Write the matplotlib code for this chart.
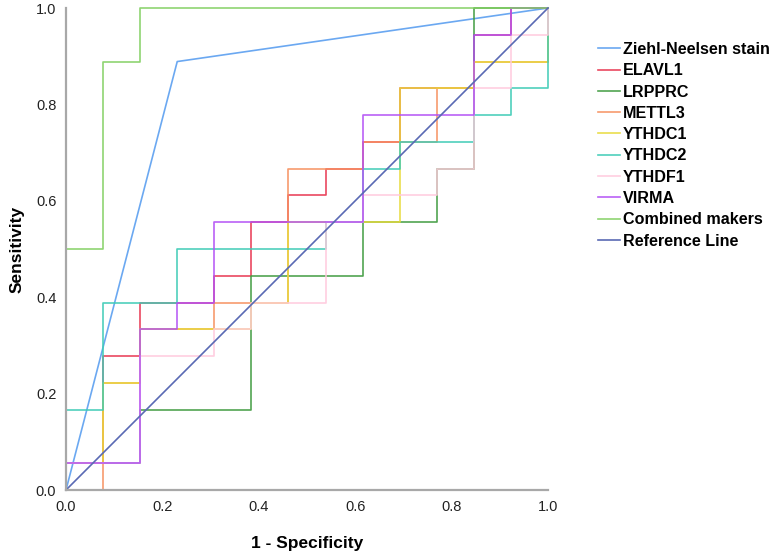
import numpy as np
import matplotlib.pyplot as plt

plt.rcParams['font.family'] = ['Liberation Sans', 'DejaVu Sans']

# 13 negative and 18 positive cases: ROC vertices as (false pos count, true pos count)
n_neg = 13
n_pos = 18

ziehl_fp = [0, 3, 13]
ziehl_tp = [0, 16, 18]

elavl1_fp = [0, 0, 1, 1, 2, 2, 4, 4, 5, 5, 6, 6, 7, 7, 8, 8, 9, 9, 11, 11, 12, 12, 13]
elavl1_tp = [0, 1, 1, 5, 5, 7, 7, 8, 8, 10, 10, 11, 11, 12, 12, 13, 13, 15, 15, 17, 17, 18, 18]

lrpprc_fp = [0, 0, 2, 2, 5, 5, 8, 8, 10, 10, 11, 11, 13]
lrpprc_tp = [0, 1, 1, 3, 3, 8, 8, 10, 10, 12, 12, 18, 18]

mettl3_fp = [0, 1, 1, 2, 2, 4, 4, 6, 6, 8, 8, 10, 10, 11, 11, 13, 13]
mettl3_tp = [0, 0, 4, 4, 6, 6, 7, 7, 12, 12, 13, 13, 15, 15, 16, 16, 18]

ythdc1_fp = [0, 0, 1, 1, 2, 2, 5, 5, 6, 6, 9, 9, 11, 11, 13, 13]
ythdc1_tp = [0, 1, 1, 4, 4, 6, 6, 7, 7, 10, 10, 15, 15, 16, 16, 18]

ythdc2_fp = [0, 0, 1, 1, 3, 3, 7, 7, 8, 8, 9, 9, 11, 11, 12, 12, 13, 13]
ythdc2_tp = [0, 3, 3, 7, 7, 9, 9, 10, 10, 12, 12, 13, 13, 14, 14, 15, 15, 18]

ythdf1_fp = [0, 0, 2, 2, 4, 4, 5, 5, 7, 7, 8, 8, 10, 10, 11, 11, 12, 12, 13, 13]
ythdf1_tp = [0, 1, 1, 5, 5, 6, 6, 7, 7, 10, 10, 11, 11, 12, 12, 15, 15, 17, 17, 18]

virma_fp = [0, 0, 2, 2, 3, 3, 4, 4, 8, 8, 11, 11, 12, 12, 13]
virma_tp = [0, 1, 1, 6, 6, 7, 7, 10, 10, 14, 14, 17, 17, 18, 18]

combined_fp = [0, 0, 1, 1, 2, 2, 13]
combined_tp = [0, 9, 9, 16, 16, 18, 18]

curves = [
    ("Ziehl-Neelsen stain", ziehl_fp, ziehl_tp, "#5b9ff0"),
    ("ELAVL1", elavl1_fp, elavl1_tp, "#e8344e"),
    ("LRPPRC", lrpprc_fp, lrpprc_tp, "#3f9a3f"),
    ("METTL3", mettl3_fp, mettl3_tp, "#f7905f"),
    ("YTHDC1", ythdc1_fp, ythdc1_tp, "#e8da3a"),
    ("YTHDC2", ythdc2_fp, ythdc2_tp, "#3ccbb5"),
    ("YTHDF1", ythdf1_fp, ythdf1_tp, "#ffc9dd"),
    ("VIRMA", virma_fp, virma_tp, "#b250f5"),
    ("Combined makers", combined_fp, combined_tp, "#82d062"),
]

fig = plt.figure(figsize=(7.78, 5.57), dpi=100)
ax = fig.add_axes([66/778, 1-490/557, 482/778, 482/557])

for name, fp, tp, col in curves:
    x = np.array(fp) / n_neg
    y = np.array(tp) / n_pos
    ax.plot(x, y, color=col, lw=1.2, alpha=0.9, label=name, clip_on=False)

ax.plot([0, 1], [0, 1], color="#5a6ab4", lw=1.2, label="Reference Line", clip_on=False)

ax.set_xlim(0, 1)
ax.set_ylim(0, 1)
ticks = [0.0, 0.2, 0.4, 0.6, 0.8, 1.0]
ax.set_xticks(ticks)
ax.set_yticks(ticks)
ax.set_xticklabels(["%.1f" % t for t in ticks])
ax.set_yticklabels(["%.1f" % t for t in ticks])
ax.tick_params(length=0, pad=7, labelsize=10.5, colors="#222222")

for s in ["top", "right"]:
    ax.spines[s].set_visible(False)
for s in ["left", "bottom"]:
    ax.spines[s].set_color("#a8a8a8")
    ax.spines[s].set_linewidth(1.6)

ax.set_xlabel("1 - Specificity", fontsize=12.5, fontweight="bold", labelpad=16)
ax.set_ylabel("Sensitivity", fontsize=12.5, fontweight="bold", labelpad=8)

fig.legend(loc="upper left", bbox_to_anchor=(598/778, 1-42/557), frameon=False,
           prop={"size": 11.6, "weight": "bold"}, handlelength=1.35,
           handletextpad=0.2, labelspacing=0.39, borderaxespad=0, borderpad=0)

fig.savefig("out.png", dpi=100)
